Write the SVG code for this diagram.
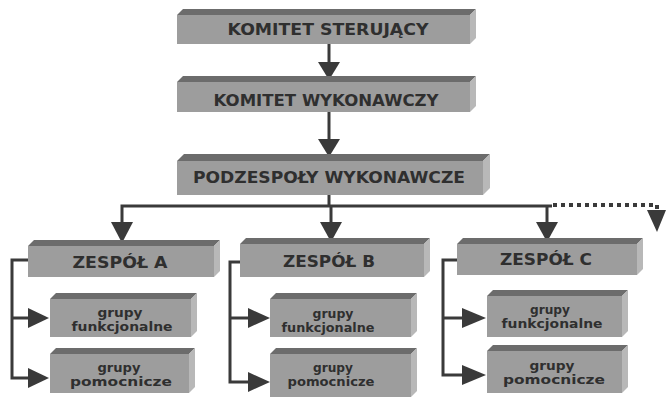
<svg xmlns="http://www.w3.org/2000/svg" width="666" height="398" viewBox="0 0 666 398">
  <defs>
    <style>
      .front { fill: #9d9d9d; }
      .top { fill: #6c6c6c; }
      .side { fill: #b8b8b8; }
      .cap { font-family: "DejaVu Sans", "Liberation Sans", sans-serif; font-weight: bold; font-size: 15px; fill: #2f2f2f; text-anchor: middle; }
      .sm { font-family: "DejaVu Sans", "Liberation Sans", sans-serif; font-weight: bold; font-size: 11.5px; fill: #2f2f2f; text-anchor: middle; }
      .ln { fill: none; stroke: #3a3a3a; stroke-width: 3; }
      .dot { fill: none; stroke: #3a3a3a; stroke-width: 4; stroke-dasharray: 4 4; }
      .hd { fill: #3a3a3a; }
    </style>
  </defs>

  <rect width="666" height="398" fill="#ffffff"/>

  <!-- connectors -->
  <g id="connectors">
    <line class="ln" x1="329" y1="44" x2="329" y2="64"/>
    <polygon class="hd" points="318,62 340,62 329,80"/>
    <line class="ln" x1="329" y1="112" x2="329" y2="141"/>
    <polygon class="hd" points="318,139 340,139 329,157"/>

    <polyline class="ln" points="329,195 329,206"/>
    <polyline class="ln" points="122,224 122,206 552,206"/>
    <line class="ln" x1="331" y1="206" x2="331" y2="224"/>
    <line class="ln" x1="547" y1="206" x2="547" y2="224"/>
    <polygon class="hd" points="111,222 133,222 122,243"/>
    <polygon class="hd" points="320,222 342,222 331,242"/>
    <polygon class="hd" points="536,222 558,222 547,242"/>
    <polyline class="dot" points="553,205 657,205 657,212"/>
    <polygon class="hd" points="647,210 666,210 657,232"/>

    <polyline class="ln" points="28,260 12,260 12,378 30,378"/>
    <line class="ln" x1="12" y1="318" x2="30" y2="318"/>
    <polygon class="hd" points="28,308 28,328 49,318"/>
    <polygon class="hd" points="28,368 28,388 49,378"/>

    <polyline class="ln" points="240,262 230,262 230,382 250,382"/>
    <line class="ln" x1="230" y1="318" x2="250" y2="318"/>
    <polygon class="hd" points="248,308 248,328 270,318"/>
    <polygon class="hd" points="248,372 248,392 270,382"/>

    <polyline class="ln" points="457,260 443,260 443,375 464,375"/>
    <line class="ln" x1="443" y1="318" x2="464" y2="318"/>
    <polygon class="hd" points="462,308 462,328 486,318"/>
    <polygon class="hd" points="462,365 462,385 486,375"/>
  </g>

  <!-- KOMITET STERUJĄCY -->
  <g id="komitet-sterujacy">
    <polygon class="top" points="177,15 183,9 476,9 470,15"/>
    <polygon class="side" points="470,15 476,9 476,38 470,44"/>
    <rect class="front" x="177" y="15" width="293" height="29"/>
    <text class="cap" x="328" y="35" textLength="201" lengthAdjust="spacingAndGlyphs">KOMITET STERUJĄCY</text>
  </g>

  <!-- KOMITET WYKONAWCZY -->
  <g id="komitet-wykonawczy">
    <polygon class="top" points="177,82 183,76 476,76 470,82"/>
    <polygon class="side" points="470,82 476,76 476,106 470,112"/>
    <rect class="front" x="177" y="82" width="293" height="30"/>
    <text class="cap" x="326" y="106" textLength="225" lengthAdjust="spacingAndGlyphs">KOMITET WYKONAWCZY</text>
  </g>

  <!-- PODZESPOŁY WYKONAWCZE -->
  <g id="podzespoly">
    <polygon class="top" points="177,161 184,154 490,154 483,161"/>
    <polygon class="side" points="483,161 490,154 490,188 483,195"/>
    <rect class="front" x="177" y="161" width="306" height="34"/>
    <text class="cap" x="329" y="183" textLength="272" lengthAdjust="spacingAndGlyphs">PODZESPOŁY WYKONAWCZE</text>
  </g>

  <!-- ZESPÓŁ A -->
  <g id="zespol-a">
    <polygon class="top" points="28,246 34,240 220,240 214,246"/>
    <polygon class="side" points="214,246 220,240 220,271 214,277"/>
    <rect class="front" x="28" y="246" width="186" height="31"/>
    <text class="cap" x="120" y="268" textLength="95" lengthAdjust="spacingAndGlyphs">ZESPÓŁ A</text>
  </g>

  <!-- ZESPÓŁ B -->
  <g id="zespol-b">
    <polygon class="top" points="240,244 246,238 430,238 424,244"/>
    <polygon class="side" points="424,244 430,238 430,271 424,277"/>
    <rect class="front" x="240" y="244" width="184" height="33"/>
    <text class="cap" x="329" y="267" textLength="92" lengthAdjust="spacingAndGlyphs">ZESPÓŁ B</text>
  </g>

  <!-- ZESPÓŁ C -->
  <g id="zespol-c">
    <polygon class="top" points="457,244 463,238 643,238 637,244"/>
    <polygon class="side" points="637,244 643,238 643,269 637,275"/>
    <rect class="front" x="457" y="244" width="180" height="31"/>
    <text class="cap" x="546" y="265" textLength="92" lengthAdjust="spacingAndGlyphs">ZESPÓŁ C</text>
  </g>

  <!-- groups under team A -->
  <g id="a-funkcjonalne">
    <polygon class="top" points="50,299 56,293 197,293 191,299"/>
    <polygon class="side" points="191,299 197,293 197,331 191,337"/>
    <rect class="front" x="50" y="299" width="141" height="38"/>
    <text class="sm" x="120" y="317" textLength="45" lengthAdjust="spacingAndGlyphs">grupy</text>
    <text class="sm" x="122" y="331" textLength="101" lengthAdjust="spacingAndGlyphs">funkcjonalne</text>
  </g>
  <g id="a-pomocnicze">
    <polygon class="top" points="50,354 56,348 195,348 189,354"/>
    <polygon class="side" points="189,354 195,348 195,387 189,393"/>
    <rect class="front" x="50" y="354" width="139" height="39"/>
    <text class="sm" x="119" y="372" textLength="43" lengthAdjust="spacingAndGlyphs">grupy</text>
    <text class="sm" x="121" y="386" textLength="102" lengthAdjust="spacingAndGlyphs">pomocnicze</text>
  </g>

  <!-- groups under team B -->
  <g id="b-funkcjonalne">
    <polygon class="top" points="270,299 276,293 417,293 411,299"/>
    <polygon class="side" points="411,299 417,293 417,331 411,337"/>
    <rect class="front" x="270" y="299" width="141" height="38"/>
    <text class="sm" x="333" y="318" textLength="41" lengthAdjust="spacingAndGlyphs">grupy</text>
    <text class="sm" x="328" y="332" textLength="93" lengthAdjust="spacingAndGlyphs">funkcjonalne</text>
  </g>
  <g id="b-pomocnicze">
    <polygon class="top" points="270,354 276,348 417,348 411,354"/>
    <polygon class="side" points="411,354 417,348 417,391 411,397"/>
    <rect class="front" x="270" y="354" width="141" height="43"/>
    <text class="sm" x="333" y="372" textLength="40" lengthAdjust="spacingAndGlyphs">grupy</text>
    <text class="sm" x="331" y="386" textLength="87" lengthAdjust="spacingAndGlyphs">pomocnicze</text>
  </g>

  <!-- groups under team C -->
  <g id="c-funkcjonalne">
    <polygon class="top" points="487,296 493,290 628,290 622,296"/>
    <polygon class="side" points="622,296 628,290 628,331 622,337"/>
    <rect class="front" x="487" y="296" width="135" height="41"/>
    <text class="sm" x="550" y="314" textLength="40" lengthAdjust="spacingAndGlyphs">grupy</text>
    <text class="sm" x="552" y="328" textLength="101" lengthAdjust="spacingAndGlyphs">funkcjonalne</text>
  </g>
  <g id="c-pomocnicze">
    <polygon class="top" points="487,351 493,345 628,345 622,351"/>
    <polygon class="side" points="622,351 628,345 628,387 622,393"/>
    <rect class="front" x="487" y="351" width="135" height="42"/>
    <text class="sm" x="552" y="370" textLength="45" lengthAdjust="spacingAndGlyphs">grupy</text>
    <text class="sm" x="554" y="384" textLength="102" lengthAdjust="spacingAndGlyphs">pomocnicze</text>
  </g>
</svg>
